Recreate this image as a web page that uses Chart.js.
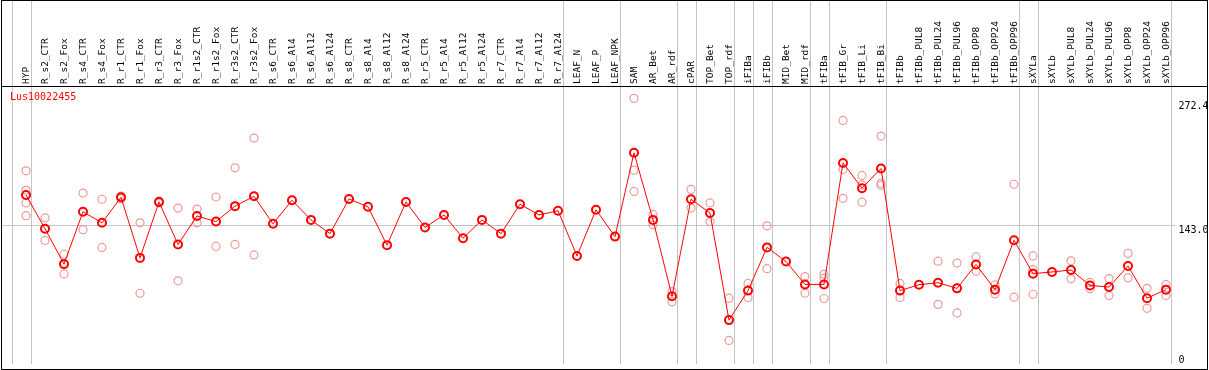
<!DOCTYPE html>
<html>
<head>
<meta charset="utf-8">
<script src="https://cdn.jsdelivr.net/npm/chart.js@4/dist/chart.umd.min.js"></script>
<style>
  html, body { margin: 0; padding: 0; background: #fff; overflow: hidden; }
  canvas { display: block; }
</style>
</head>
<body>
<canvas id="chartGene" width="1209" height="370"></canvas>
<script>
const geneName = 'Lus10022455';

const categories = [
    'HYP', 'R_s2_CTR', 'R_s2_Fox', 'R_s4_CTR', 'R_s4_Fox', 'R_r1_CTR', 'R_r1_Fox', 'R_r3_CTR', 'R_r3_Fox',
    'R_r1s2_CTR', 'R_r1s2_Fox', 'R_r3s2_CTR', 'R_r3s2_Fox', 'R_s6_CTR', 'R_s6_Al4', 'R_s6_Al12', 'R_s6_Al24',
    'R_s8_CTR', 'R_s8_Al4', 'R_s8_Al12', 'R_s8_Al24', 'R_r5_CTR', 'R_r5_Al4', 'R_r5_Al12', 'R_r5_Al24',
    'R_r7_CTR', 'R_r7_Al4', 'R_r7_Al12', 'R_r7_Al24', 'LEAF_N', 'LEAF_P', 'LEAF_NPK', 'SAM', 'AR_Bet', 'AR_rdf',
    'cPAR', 'TOP_Bet', 'TOP_rdf', 'iFIBa', 'iFIBb', 'MID_Bet', 'MID_rdf', 'tFIBa', 'tFIB_Gr', 'tFIB_Li', 'tFIB_Bi',
    'tFIBb', 'tFIBb_PUL8', 'tFIBb_PUL24', 'tFIBb_PUL96', 'tFIBb_OPP8', 'tFIBb_OPP24', 'tFIBb_OPP96',
    'sXYLa', 'sXYLb', 'sXYLb_PUL8', 'sXYLb_PUL24', 'sXYLb_PUL96', 'sXYLb_OPP8', 'sXYLb_OPP24', 'sXYLb_OPP96'
];

// mean expression per sample
const means = [
    174, 139.7, 103.7, 157, 145.7, 171.7, 110, 167, 123.7, 152.7,
    147, 162.7, 172.7, 144.7, 168.7, 148.7, 134.7, 170, 162, 123,
    167, 141, 153.7, 130, 148.7, 134.7, 164.7, 153.7, 158, 112,
    159, 131.7, 217, 148.7, 71, 169.7, 155.7, 46.7, 76.7, 120.7,
    106.3, 83, 83, 206.7, 181, 201, 76.7, 82.7, 84.7, 79,
    103.3, 77.7, 128, 94, 95.7, 97.7, 82, 80.3, 101.7, 69, 77.7
];

// individual replicates (empty = only the mean was shown)
const replicates = [
    [198.7, 179, 166, 153], [150.7, 127.7], [113.7, 93.7], [176, 138.7], [169.7, 120.7],
    [173, 170], [145.7, 74], [168, 166], [160.7, 86.7], [159.7, 145.7],
    [172, 121.7], [201.7, 123.7], [232, 113], [], [], [], [], [], [], [],
    [], [], [], [], [], [], [], [], [], [],
    [], [], [272.4, 199.3, 177.7], [154.3, 143.7], [75.7, 65.3], [179.7, 160.7], [166, 147], [69, 26], [84, 69.7], [142.7, 99],
    [], [91, 74], [93.3, 89.3, 68.7], [250, 200, 170.7], [194, 184.3, 166.7], [234, 186, 184], [84, 69.7], [], [106.7, 62.7], [104.7, 54],
    [111, 96.3], [82.7, 73.3], [185, 70], [112, 98.3, 73], [], [107, 88.7], [85, 78.7], [89, 71.7], [114.7, 89.7], [79, 58.7], [83, 71.7]
];

const yTickValues = [272.4, 143, 0];
const yTickLabels = ['272.4', '143.0', '0'];

// last sample index of each group (separator lines)
const groupEnds = [-1, 0, 28, 31, 34, 35, 37, 38, 39, 41, 42, 45, 52, 53, 60];

const monoFont = '"DejaVu Sans Mono", "Liberation Mono", monospace';

const replicatePoints = [];
replicates.forEach(function(reps, i) {
    reps.forEach(function(v) {
        replicatePoints.push({ x: categories[i], y: v });
    });
});

const framePlugin = {
    id: 'frame',
    beforeDatasetsDraw(chart) {
        const ctx = chart.ctx;
        const area = chart.chartArea;
        const x = chart.scales.x;
        const y = chart.scales.y;
        const step = x.getPixelForValue(1) - x.getPixelForValue(0);

        ctx.save();
        ctx.lineWidth = 1;
        ctx.strokeStyle = '#c4c4c4';
        ctx.beginPath();
        groupEnds.forEach(function(i) {
            const px = Math.round(x.getPixelForValue(0) + (i + 0.25) * step) + 0.5;
            ctx.moveTo(px, 0);
            ctx.lineTo(px, area.bottom);
        });
        const gy = Math.round(y.getPixelForValue(yTickValues[1])) + 0.5;
        ctx.moveTo(1, gy);
        ctx.lineTo(area.right, gy);
        ctx.stroke();
        ctx.restore();
    },
    afterDraw(chart) {
        const ctx = chart.ctx;
        const area = chart.chartArea;
        const y = chart.scales.y;

        ctx.save();
        ctx.strokeStyle = '#000';
        ctx.lineWidth = 1;
        ctx.strokeRect(1.5, 0.5, chart.width - 3, chart.height - 1);
        ctx.beginPath();
        ctx.moveTo(1, area.top + 0.5);
        ctx.lineTo(chart.width - 1, area.top + 0.5);
        ctx.stroke();

        ctx.font = '10px ' + monoFont;
        ctx.fillStyle = '#000';
        ctx.textAlign = 'left';
        ctx.textBaseline = 'middle';
        yTickValues.forEach(function(v, i) {
            let py = y.getPixelForValue(v) + 4.5;
            py = Math.max(area.top + 20, Math.min(area.bottom - 4, py));
            ctx.fillText(yTickLabels[i], area.right + 3, py);
        });

        ctx.fillStyle = '#ff0000';
        ctx.fillText(geneName, 10, area.top + 11);
        ctx.restore();
    }
};

const ctxGene = document.getElementById('chartGene').getContext('2d');

const chartGene = new Chart(ctxGene, {
    type: 'line',
    data: {
        labels: categories,
        datasets: [{
            label: 'mean',
            data: means,
            borderColor: '#ff0000',
            borderWidth: 1,
            pointRadius: 4,
            pointBorderWidth: 2,
            pointBorderColor: '#ff0000',
            pointBackgroundColor: 'rgba(0,0,0,0)',
            tension: 0,
            order: 1
        }, {
            type: 'scatter',
            label: 'replicates',
            data: replicatePoints,
            showLine: false,
            pointRadius: 4,
            pointBorderWidth: 1.2,
            pointBorderColor: '#ee9a9a',
            pointBackgroundColor: 'rgba(0,0,0,0)',
            order: 2
        }]
    },
    options: {
        responsive: false,
        animation: false,
        layout: {
            padding: { left: 16.5, right: 33.5, top: 0, bottom: 1 }
        },
        plugins: {
            legend: { display: false },
            tooltip: { enabled: false }
        },
        scales: {
            x: {
                type: 'category',
                position: 'top',
                offset: true,
                grid: { display: false },
                border: { display: false },
                ticks: {
                    autoSkip: false,
                    minRotation: 90,
                    maxRotation: 90,
                    padding: -6,
                    labelOffset: 12,
                    color: '#000',
                    font: { family: monoFont, size: 9.5 }
                },
                afterFit: function(scale) {
                    scale.height = 86;
                }
            },
            y: {
                display: false,
                min: 2,
                max: 285
            }
        }
    },
    plugins: [framePlugin]
});
</script>
</body>
</html>
